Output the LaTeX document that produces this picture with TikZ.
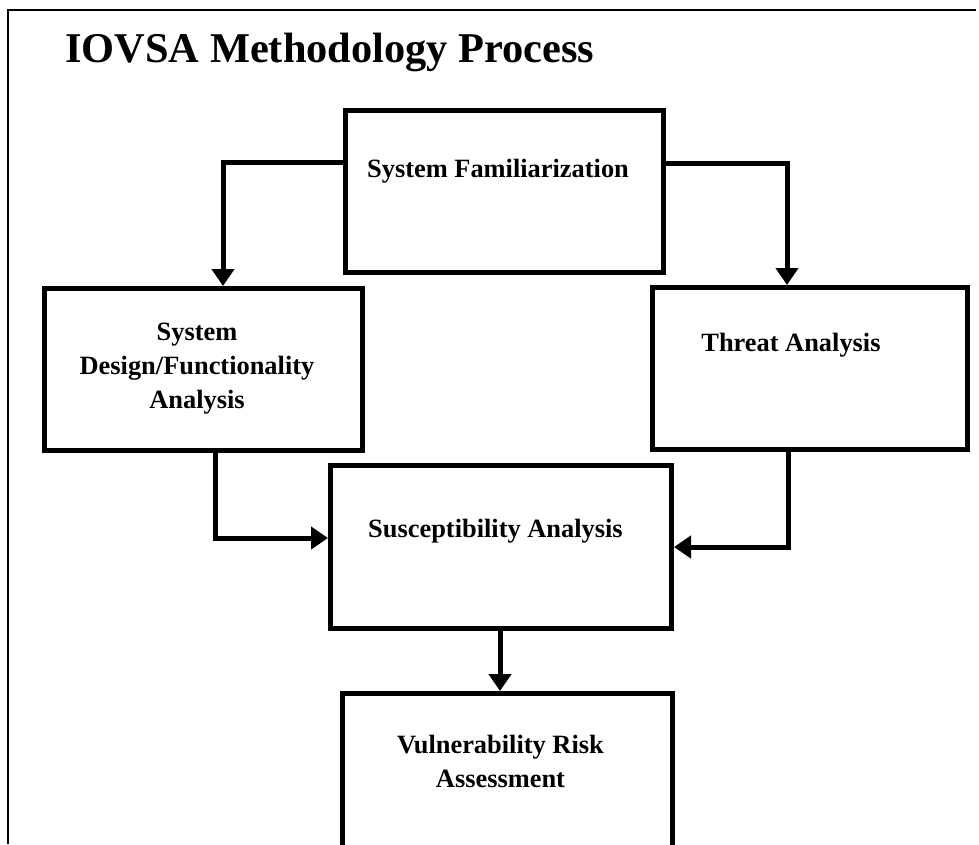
\documentclass[tikz,border=0pt]{standalone}
\usepackage{fontspec}
\setmainfont{Liberation Serif}
\usetikzlibrary{arrows.meta}

\begin{document}
\begin{tikzpicture}[x=1pt, y=-1pt,
    stage/.style={rectangle, draw, line width=5pt, inner sep=0pt},
    flow/.style={line width=5pt, -{Triangle[width=22pt, length=17pt]}},
    lbl/.style={font=\fontsize{26.4}{34}\selectfont\bfseries, align=center, inner sep=0pt}]
        \useasboundingbox (0,0) rectangle (979,844);
        \clip (0,0) rectangle (979,844);
    % Frame and title
        \draw[line width=2.5pt] (8,844) -- (8,10) -- (976,10);
        \node[anchor=base west, inner sep=0pt, font=\fontsize{42.4}{48}\selectfont\bfseries] (title) at (65,62) {IOVSA Methodology Process};
    % Stages
        \node[stage, minimum width=318pt, minimum height=162pt] (sf)  at (504.5,191.5) {};
        \node[stage, minimum width=318pt, minimum height=162pt] (sd)  at (203.5,369.5) {};
        \node[stage, minimum width=315pt, minimum height=162pt] (ta)  at (810,368.5)   {};
        \node[stage, minimum width=341pt, minimum height=163pt] (sa)  at (501,547)     {};
        \node[stage, minimum width=330pt, minimum height=162pt] (vra) at (507.5,774.5) {};
    % Stage labels (base = last line)
        \node[lbl, anchor=base] (sftxt)  at (498,177)   {System Familiarization};
        \node[lbl, anchor=base] (sdtxt)  at (197,408)   {System\\Design/Functionality\\Analysis};
        \node[lbl, anchor=base] (tatxt)  at (791,351)   {Threat Analysis};
        \node[lbl, anchor=base] (satxt)  at (495.5,537) {Susceptibility Analysis};
        \node[lbl, anchor=base] (vratxt) at (500.5,787) {Vulnerability Risk\\Assessment};
    % Flow between stages
        \draw[flow] ([yshift=29pt]sf.west) -| ([xshift=19.5pt]sd.north);
        \draw[flow] ([yshift=28.5pt]sf.east) -| ([xshift=-23pt]ta.north);
        \draw[flow] ([xshift=11.5pt]sd.south) |- ([yshift=9pt]sa.west);
        \draw[flow] ([xshift=-22pt]ta.south) |- (sa.east);
        \draw[flow] ([xshift=-1pt]sa.south) -- ([xshift=-1pt]sa.south |- vra.north);
\end{tikzpicture}
\end{document}
